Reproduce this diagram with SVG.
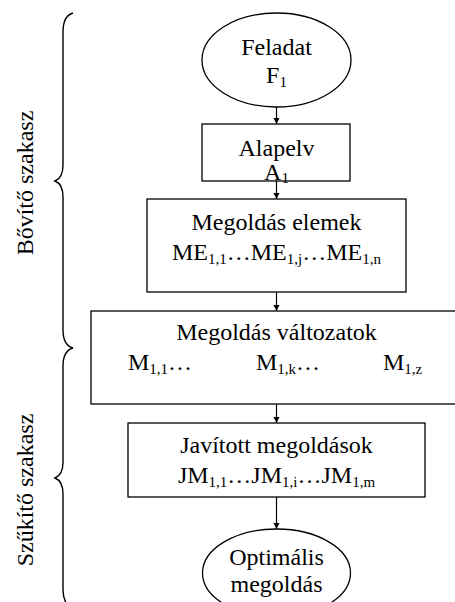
<svg xmlns="http://www.w3.org/2000/svg" width="455" height="602" viewBox="0 0 455 602">
  <style>
    .shape { fill: #ffffff; stroke: #000000; stroke-width: 1.3; }
    .brace { fill: none; stroke: #000000; stroke-width: 1.4; }
    .conn { fill: none; stroke: #000000; stroke-width: 1.2; marker-end: url(#arrow); }
    .lbl { font-family: "Liberation Serif", "Times New Roman", Times, serif; font-size: 24px; fill: #000000; text-anchor: middle; }
    .sub { font-size: 15px; }
  </style>
  <defs>
    <marker id="arrow" viewBox="0 0 10 10" refX="10" refY="5" markerWidth="6" markerHeight="7" markerUnits="userSpaceOnUse" orient="auto">
      <path d="M0,0 L10,5 L0,10 z" fill="#000000"/>
    </marker>
  </defs>

  <!-- phase braces -->
  <g id="braces">
    <path class="brace" d="M73,13 C66,15 63,22 63,32 L63,165 C63,175 60,179 55,181 C60,183 63,187 63,197 L63,330 C63,340 66,346 73,348"/>
    <path class="brace" d="M73,348 C66,350 63,356 63,366 L63,462 C63,472 60,476 55,478 C60,480 63,484 63,494 L63,590 C63,596 64,599 66,603"/>
  </g>

  <!-- phase labels -->
  <text class="lbl" transform="translate(33,183) rotate(-90)">Bővítő szakasz</text>
  <text class="lbl" transform="translate(33,490) rotate(-90)">Szűkítő szakasz</text>

  <!-- connectors -->
  <g id="connectors">
    <line class="conn" x1="276.5" y1="107" x2="276.5" y2="124"/>
    <line class="conn" x1="276.5" y1="181" x2="276.5" y2="199"/>
    <line class="conn" x1="276.5" y1="292" x2="276.5" y2="311"/>
    <line class="conn" x1="276.5" y1="404" x2="276.5" y2="423"/>
    <line class="conn" x1="276.5" y1="497" x2="276.5" y2="529"/>
  </g>

  <g id="feladat">
    <ellipse class="shape" cx="276.5" cy="60" rx="74.5" ry="47"/>
    <text class="lbl" x="276.5" y="55">Feladat</text>
    <text class="lbl" x="276.5" y="83">F<tspan class="sub" dy="4">1</tspan></text>
  </g>

  <g id="alapelv">
    <rect class="shape" x="202" y="124" width="148" height="57"/>
    <text class="lbl" x="276.5" y="156">Alapelv</text>
    <text class="lbl" x="276.5" y="180">A<tspan class="sub" dy="3">1</tspan></text>
  </g>

  <g id="megoldas-elemek">
    <rect class="shape" x="147" y="199" width="259" height="93"/>
    <text class="lbl" x="276.5" y="230">Megoldás elemek</text>
    <text class="lbl" x="276.5" y="260">ME<tspan class="sub" dy="4">1,1</tspan><tspan dy="-4">…ME</tspan><tspan class="sub" dy="4">1,j</tspan><tspan dy="-4">…ME</tspan><tspan class="sub" dy="4">1,n</tspan></text>
  </g>

  <g id="megoldas-valtozatok">
    <rect class="shape" x="91" y="311" width="370" height="93"/>
    <text class="lbl" x="276.5" y="340">Megoldás változatok</text>
    <text class="lbl" x="128" y="370" style="text-anchor:start">M<tspan class="sub" dy="4">1,1</tspan><tspan dy="-4">…</tspan></text>
    <text class="lbl" x="256" y="370" style="text-anchor:start">M<tspan class="sub" dy="4">1,k</tspan><tspan dy="-4">…</tspan></text>
    <text class="lbl" x="383" y="370" style="text-anchor:start">M<tspan class="sub" dy="4">1,z</tspan></text>
  </g>

  <g id="javitott-megoldasok">
    <rect class="shape" x="128" y="423" width="297" height="74"/>
    <text class="lbl" x="276.5" y="453">Javított megoldások</text>
    <text class="lbl" x="276.5" y="483">JM<tspan class="sub" dy="4">1,1</tspan><tspan dy="-4">…JM</tspan><tspan class="sub" dy="4">1,i</tspan><tspan dy="-4">…JM</tspan><tspan class="sub" dy="4">1,m</tspan></text>
  </g>

  <g id="optimalis-megoldas">
    <ellipse class="shape" cx="276.5" cy="573" rx="74" ry="44"/>
    <text class="lbl" x="276.5" y="565">Optimális</text>
    <text class="lbl" x="276.5" y="592">megoldás</text>
  </g>
</svg>
